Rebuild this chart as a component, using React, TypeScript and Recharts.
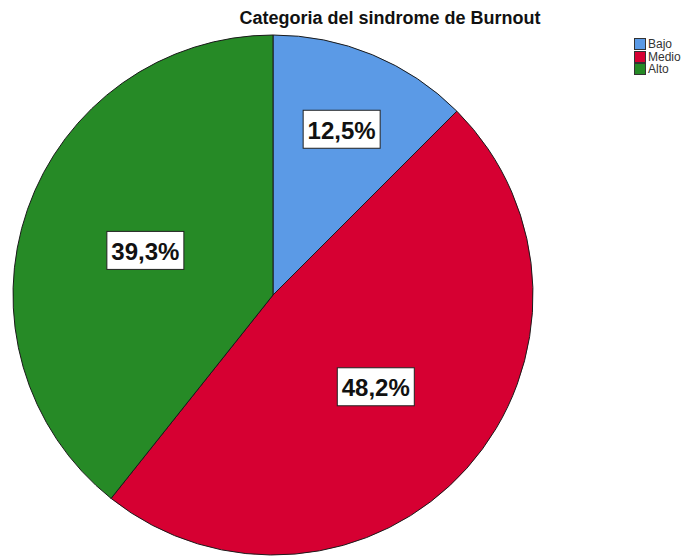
import React from 'react'
import { Cell, Pie, PieChart } from 'recharts'

const categories = ['Bajo', 'Medio', 'Alto']
const percentages = [12.5, 48.2, 39.3]

const colors = ['#5b9ae6', '#d60032', '#268a26']
// label distance from centre, as a fraction of the radius
const labelRadius = [0.69, 0.53, 0.52]

const chartData = categories.map((name, i) => ({ name, value: percentages[i] }))

const RADIAN = Math.PI / 180

const renderLabel = (props: any) => {
    const { cx, cy, midAngle, outerRadius, index, value } = props
    const r = outerRadius * labelRadius[index]
    const x = cx + r * Math.cos(-midAngle * RADIAN)
    const y = cy + r * Math.sin(-midAngle * RADIAN)
    const text = value.toFixed(1).replace('.', ',') + '%'
    return (
        <g>
            <rect x={x - 38.5} y={y - 19} width={77} height={38} fill="#ffffff" stroke="#222222" strokeWidth={1} />
            <text
                x={x}
                y={y + 1}
                textAnchor="middle"
                dominantBaseline="central"
                fontFamily="'Liberation Sans', Arial, sans-serif"
                fontWeight="bold"
                fontSize={24}
                fill="#111111"
            >
                {text}
            </text>
        </g>
    )
}

const App = () => {
    return (
        <div style={{ position: 'fixed', left: 0, top: 0, width: 693, height: 557, background: '#fff', fontFamily: "'Liberation Sans', Arial, sans-serif" }}>
            <div style={{ position: 'absolute', left: 220, top: 8, width: 340, textAlign: 'center', fontSize: 18, fontWeight: 'bold', color: '#111' }}>
                Categoria del sindrome de Burnout
            </div>
            <PieChart width={693} height={557} style={{ position: 'absolute', left: 0, top: 0 }}>
                <Pie
                    data={chartData}
                    dataKey="value"
                    nameKey="name"
                    cx={268}
                    cy={290}
                    outerRadius={260}
                    startAngle={90}
                    endAngle={-270}
                    stroke="#1a1a1a"
                    strokeWidth={1}
                    label={renderLabel}
                    labelLine={false}
                    isAnimationActive={false}
                >
                    {chartData.map((d, i) => (
                        <Cell key={d.name} fill={colors[i]} />
                    ))}
                </Pie>
            </PieChart>
            <div style={{ position: 'absolute', left: 634, top: 38, fontSize: 12, color: '#333' }}>
                {categories.map((c, i) => (
                    <div key={c} style={{ display: 'flex', alignItems: 'center', height: 12.5 }}>
                        <span style={{ width: 10, height: 10, background: colors[i], border: '1px solid #333', marginRight: 2, display: 'inline-block' }} />
                        {c}
                    </div>
                ))}
            </div>
        </div>
    )
}

export default App
